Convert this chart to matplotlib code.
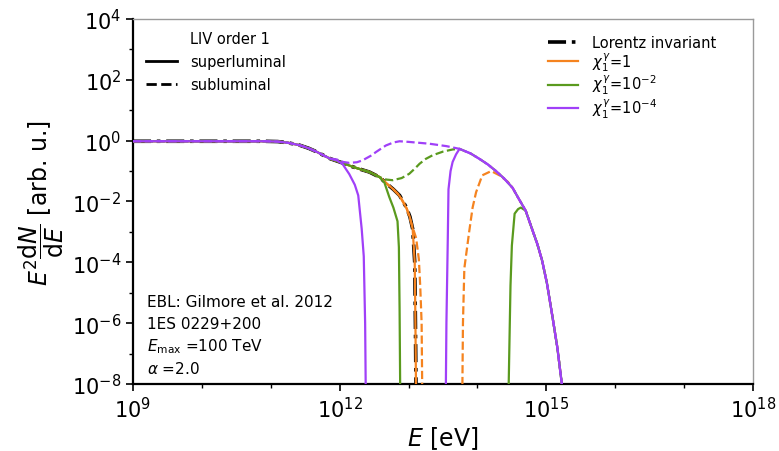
import numpy as np
import matplotlib
matplotlib.use("Agg")
import matplotlib.pyplot as plt
from matplotlib.ticker import FixedLocator, NullFormatter, LogFormatterSciNotation
from matplotlib.lines import Line2D

# ---- data (log10 E [eV], log10 E^2 dN/dE) ----
# Lorentz invariant (also the common low-energy part of all curves)
li_logE = [9.0, 10.0, 10.9, 11.1, 11.25, 11.42, 11.55, 11.67, 11.78, 11.86, 12.0, 12.1, 12.19, 12.3, 12.43,
           12.58, 12.68, 12.78, 12.87, 12.97, 13.02, 13.06, 13.09, 13.1, 13.11]
li_logF = [-0.02, -0.02, -0.02, -0.03, -0.07, -0.15, -0.25, -0.37, -0.5, -0.59, -0.7, -0.78, -0.86, -0.94, -1.03,
           -1.2, -1.41, -1.6, -1.8, -2.2, -2.5, -2.9, -4.0, -6.0, -8.5]

# common high-energy envelope reached by the recovering curves
env_logE = [13.74, 13.9, 14.03, 14.15, 14.27, 14.39, 14.51, 14.61, 14.7, 14.8, 14.87, 14.94, 15.01, 15.09, 15.16, 15.22, 15.25]
env_logF = [-0.27, -0.42, -0.6, -0.78, -1.0, -1.25, -1.55, -1.95, -2.3, -2.95, -3.4, -3.95, -4.7, -5.8, -6.8, -7.9, -8.5]

# chi=1, superluminal
o_sup_logE = [12.43, 12.58, 12.68, 12.78, 12.87, 12.97, 13.02, 13.06, 13.09, 13.1, 13.11]
o_sup_logF = [-1.03, -1.19, -1.4, -1.6, -1.82, -2.22, -2.52, -2.9, -4.0, -6.0, -8.5]
# chi=1, subluminal
o_sub_logE = [12.97, 13.06, 13.11, 13.15, 13.17, 13.19, 13.2,
              13.78, 13.79, 13.81, 13.88, 13.93, 13.98, 14.07, 14.2, 14.32, 14.44, 14.51]
o_sub_logF = [-2.2, -2.85, -3.2, -3.9, -4.8, -6.0, -8.5,
              -8.5, -6.0, -4.2, -3.0, -2.2, -1.7, -1.14, -1.0, -1.14, -1.35, -1.55]

# chi=1e-2, superluminal
g_sup_logE = [12.58, 12.65, 12.72, 12.78, 12.84, 12.86, 12.87, 12.88,
              14.45, 14.47, 14.48, 14.5, 14.54, 14.59, 14.63]
g_sup_logF = [-1.2, -1.38, -1.85, -2.2, -2.65, -3.5, -5.5, -8.5,
              -8.5, -6.0, -4.77, -3.45, -2.4, -2.25, -2.2]
# chi=1e-2, subluminal
g_sub_logE = [12.58, 12.68, 12.77, 12.9, 13.01, 13.1, 13.16, 13.25, 13.35, 13.5, 13.64, 13.74]
g_sub_logF = [-1.2, -1.28, -1.3, -1.23, -1.09, -0.9, -0.76, -0.6, -0.48, -0.36, -0.29, -0.27]

# chi=1e-4, superluminal
p_sup_logE = [11.96, 12.04, 12.14, 12.22, 12.27, 12.32, 12.35, 12.37, 12.38,
              13.54, 13.55, 13.57, 13.58, 13.61, 13.64, 13.69, 13.74]
p_sup_logF = [-0.65, -0.76, -1.1, -1.45, -1.8, -2.9, -3.8, -6.0, -8.5,
              -8.5, -6.0, -3.2, -1.6, -1.0, -0.7, -0.45, -0.27]
# chi=1e-4, subluminal
p_sub_logE = [11.96, 12.05, 12.14, 12.25, 12.33, 12.45, 12.53, 12.67, 12.78, 12.87, 13.0, 13.3, 13.55, 13.74]
p_sub_logF = [-0.62, -0.7, -0.73, -0.71, -0.65, -0.5, -0.37, -0.16, -0.06, -0.02, -0.04, -0.1, -0.18, -0.27]

x_major = [1e9, 1e12, 1e15, 1e18]
x_minor = [1e10, 1e11, 1e13, 1e14, 1e16, 1e17]
y_major = [1e-8, 1e-6, 1e-4, 1e-2, 1e0, 1e2, 1e4]
y_minor = [1e-7, 1e-5, 1e-3, 1e-1, 1e1, 1e3]

series_labels = [r"$\chi_1^\gamma\!=\!1$", r"$\chi_1^\gamma\!=\!10^{-2}$", r"$\chi_1^\gamma\!=\!10^{-4}$"]
info_lines = ["EBL: Gilmore et al. 2012", "1ES 0229+200", r"$E_{\rm max}$ =100 TeV", r"$\alpha$ =2.0"]

C_OR = "#f5831f"
C_GR = "#5a9a1e"
C_PU = "#a040f8"


def curve(own_e, own_f, with_env=False):
    """low-energy common part (below own branch) + own points (+ envelope after)."""
    le = [e for e in li_logE if e < own_e[0]] + list(own_e)
    lf = [f for e, f in zip(li_logE, li_logF) if e < own_e[0]] + list(own_f)
    if with_env:
        le += [e for e in env_logE if e > own_e[-1]]
        lf += [f for e, f in zip(env_logE, env_logF) if e > own_e[-1]]
    return 10 ** np.array(le), 10 ** np.array(lf)


fig = plt.figure(figsize=(7.79, 4.52), dpi=100)
ax = fig.add_axes([0.1707, 0.1482, 0.7959, 0.8076])

lw = 1.6
DASHDOT = (0, (5, 1.6, 1, 1.6))
ax.plot(10 ** np.array(li_logE), 10 ** np.array(li_logF), color="black", lw=2.6, ls=DASHDOT, zorder=3)
x, y = curve(o_sub_logE, o_sub_logF, True)
ax.plot(x, y, color=C_OR, lw=lw, ls="--", zorder=4)
x, y = curve(o_sup_logE, o_sup_logF)
ax.plot(x, y, color=C_OR, lw=lw, ls="-", zorder=4)
x, y = curve(g_sub_logE, g_sub_logF, True)
ax.plot(x, y, color=C_GR, lw=lw, ls="--", zorder=5)
x, y = curve(g_sup_logE, g_sup_logF, True)
ax.plot(x, y, color=C_GR, lw=lw, ls="-", zorder=5)
x, y = curve(p_sub_logE, p_sub_logF, True)
ax.plot(x, y, color=C_PU, lw=lw, ls="--", zorder=6)
x, y = curve(p_sup_logE, p_sup_logF, True)
ax.plot(x, y, color=C_PU, lw=lw, ls="-", zorder=6)

ax.set_xscale("log")
ax.set_yscale("log")
ax.set_xlim(1e9, 1e18)
ax.set_ylim(1e-8, 1e4)

ax.xaxis.set_major_locator(FixedLocator(x_major))
ax.xaxis.set_minor_locator(FixedLocator(x_minor))
ax.xaxis.set_major_formatter(LogFormatterSciNotation())
ax.xaxis.set_minor_formatter(NullFormatter())
ax.yaxis.set_major_locator(FixedLocator(y_major))
ax.yaxis.set_minor_locator(FixedLocator(y_minor))
ax.yaxis.set_major_formatter(LogFormatterSciNotation())
ax.yaxis.set_minor_formatter(NullFormatter())
ax.tick_params(which="major", labelsize=15, length=5, width=1.2)
ax.tick_params(which="minor", length=3, width=1.0)

for s in ["top", "right"]:
    ax.spines[s].set_color("#9a9a9a")
    ax.spines[s].set_linewidth(1.0)
for s in ["left", "bottom"]:
    ax.spines[s].set_color("black")
    ax.spines[s].set_linewidth(1.6)

ax.set_xlabel(r"$E$ [eV]", fontsize=17, labelpad=2)
ax.set_ylabel(r"$E^2\dfrac{\mathrm{d}N}{\mathrm{d}E}$ [arb. u.]", fontsize=17, labelpad=4)

# legend 1: LIV order (title row aligned with labels)
h1 = [Line2D([], [], color="none"),
      Line2D([], [], color="black", lw=2, ls="-"), Line2D([], [], color="black", lw=2, ls="--")]
leg1 = ax.legend(h1, ["LIV order 1", "superluminal", "subluminal"], loc="upper left",
                 bbox_to_anchor=(0.021, 0.967), frameon=False, fontsize=10.5,
                 handlelength=2.1, handletextpad=0.9, labelspacing=0.55,
                 borderpad=0, borderaxespad=0)
ax.add_artist(leg1)

h2 = [Line2D([], [], color="black", lw=2.6, ls=DASHDOT),
      Line2D([], [], color=C_OR, lw=1.6), Line2D([], [], color=C_GR, lw=1.6), Line2D([], [], color=C_PU, lw=1.6)]
ax.legend(h2, ["Lorentz invariant"] + series_labels, loc="upper left", bbox_to_anchor=(0.669, 0.9565),
          frameon=False, fontsize=10.5, handlelength=2.1, handletextpad=0.9, labelspacing=0.02,
          borderpad=0, borderaxespad=0)

for i, t in enumerate(info_lines):
    ax.text(0.023, 0.225 - i * 0.06, t, transform=ax.transAxes, fontsize=11, va="center", ha="left")

fig.savefig("out.png", dpi=100)
